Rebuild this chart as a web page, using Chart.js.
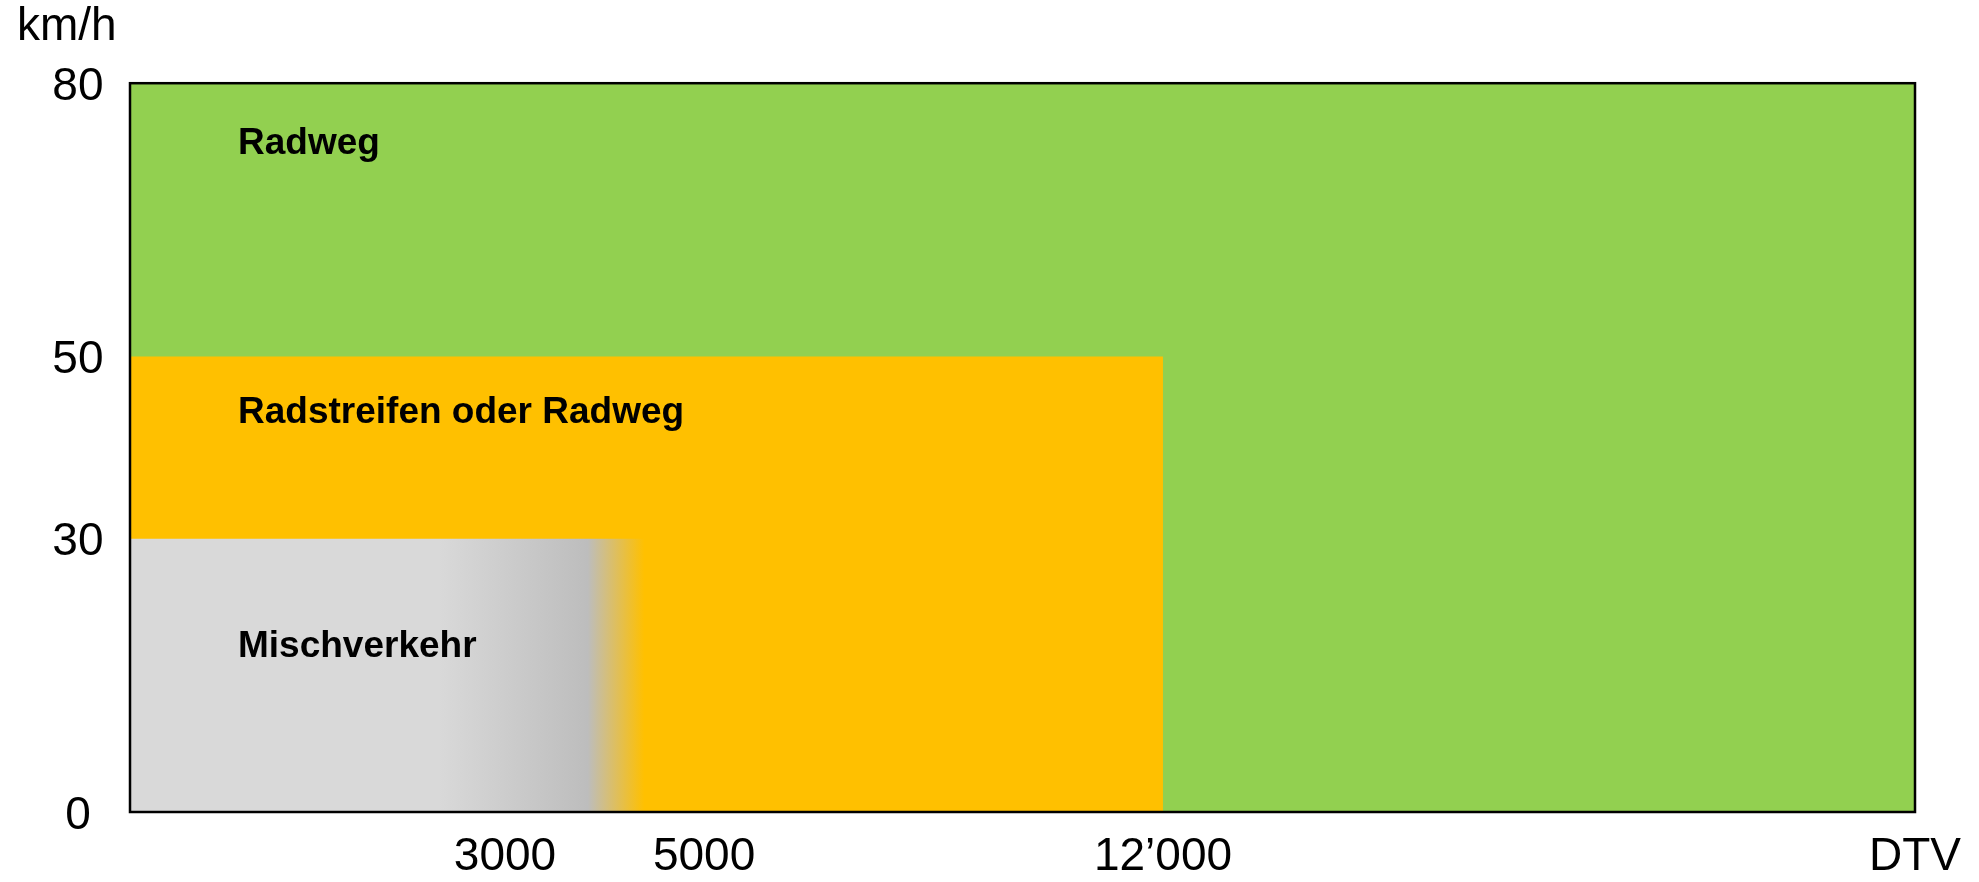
<!DOCTYPE html>
<html>
<head>
<meta charset="utf-8">
<script src="https://cdn.jsdelivr.net/npm/chart.js@4/dist/chart.umd.min.js"></script>
<style>
  html, body { margin: 0; padding: 0; background: #ffffff; }
  #wrap { width: 1979px; height: 882px; position: relative; }
</style>
</head>
<body>
<div id="wrap"><canvas id="c"></canvas></div>
<script>
// ---- data ----
const zoneNames     = ['Mischverkehr', 'Radstreifen oder Radweg', 'Radweg'];
const zoneMaxSpeed  = [30, 50, 80];            // km/h (upper edge of each zone)
const zoneMaxDtv    = [4400, 12000, 20000];    // DTV (right edge of each zone)
const zoneLabelY    = [18.1, 43.8, 73.3];      // km/h where the zone name sits
const xTickValues   = [3000, 5000, 12000, 20000];
const xTickLabels   = ['3000', '5000', '12\u2019000', 'DTV'];
const yTickValues   = [0, 30, 50, 80];
const yUnit         = 'km/h';

// schematic (non-proportional) DTV axis, as drawn in the original
const axisAnchorValues    = [0, 3000, 5000, 12000, 20000];
const axisAnchorFractions = [0, 0.2101, 0.3216, 0.5787, 1];

const zoneColors = ['#d9d9d9', '#ffc000', '#92d050'];

// ---- custom piecewise scale ----
class SchematicScale extends Chart.LinearScale {
  getPixelForValue(value) {
    if (value === null || value === undefined || isNaN(value)) return NaN;
    const vs = axisAnchorValues, fs = axisAnchorFractions;
    let i = 1;
    while (i < vs.length - 1 && value > vs[i]) i++;
    const t = (value - vs[i - 1]) / (vs[i] - vs[i - 1]);
    return this.getPixelForDecimal(fs[i - 1] + t * (fs[i] - fs[i - 1]));
  }
  getValueForPixel(pixel) {
    const d = this.getDecimalForPixel(pixel);
    const vs = axisAnchorValues, fs = axisAnchorFractions;
    let i = 1;
    while (i < fs.length - 1 && d > fs[i]) i++;
    const t = (d - fs[i - 1]) / (fs[i] - fs[i - 1]);
    return vs[i - 1] + t * (vs[i] - vs[i - 1]);
  }
}
SchematicScale.id = 'schematic';
SchematicScale.defaults = Chart.LinearScale.defaults;
Chart.register(SchematicScale);

const FONT = 'Liberation Sans, Arial, Helvetica, sans-serif';

function greyFade(ctx) {
  const chart = ctx.chart;
  if (!chart.chartArea || !chart.scales.x) return zoneColors[0];
  const x = chart.scales.x;
  const p0 = x.getPixelForValue(0), p1 = x.getPixelForValue(zoneMaxDtv[0]);
  const g = chart.ctx.createLinearGradient(p0, 0, p1, 0);
  g.addColorStop(0, '#d9d9d9');
  g.addColorStop(0.60, '#d9d9d9');
  g.addColorStop(0.89, '#bdbdbd');
  g.addColorStop(1, '#ffc000');
  return g;
}

const datasets = zoneNames.map((name, i) => ({
  label: name,
  data: [{ x: 0, y: zoneMaxSpeed[i] }, { x: zoneMaxDtv[i], y: zoneMaxSpeed[i] }],
  backgroundColor: i === 0 ? greyFade : zoneColors[i],
  borderColor: 'rgba(0,0,0,0)',
  borderWidth: 0,
  pointRadius: 0,
  fill: 'origin',
  tension: 0
}));

const framePlugin = {
  id: 'frameAndNames',
  afterDatasetsDraw(chart) {
    const { ctx, chartArea: a, scales } = chart;
    ctx.save();
    // zone names
    ctx.font = 'bold 37px ' + FONT;
    ctx.fillStyle = '#000';
    ctx.textAlign = 'left';
    ctx.textBaseline = 'middle';
    zoneNames.forEach((n, i) => {
      ctx.fillText(n, a.left + 108, scales.y.getPixelForValue(zoneLabelY[i]));
    });
    // frame
    ctx.strokeStyle = '#000';
    ctx.lineWidth = 2.5;
    ctx.strokeRect(a.left, a.top, a.right - a.left, a.bottom - a.top);
    ctx.restore();
  }
};

new Chart(document.getElementById('c'), {
  type: 'line',
  data: { datasets },
  plugins: [framePlugin],
  options: {
    responsive: true,
    maintainAspectRatio: false,
    animation: false,
    events: [],
    layout: { padding: { left: 17, right: 64, top: 0, bottom: 0 } },
    plugins: {
      legend: { display: false },
      tooltip: { enabled: false },
      title: {
        display: true,
        text: yUnit,
        align: 'start',
        color: '#000',
        font: { family: FONT, size: 46, weight: 'normal' },
        padding: { top: 0, bottom: 28 }
      }
    },
    scales: {
      x: {
        type: 'schematic',
        min: 0,
        max: axisAnchorValues[axisAnchorValues.length - 1],
        grid: { display: false, drawTicks: false },
        border: { display: false },
        afterBuildTicks: s => { s.ticks = xTickValues.map(v => ({ value: v })); },
        afterFit: s => { s.height = 70; },
        ticks: {
          autoSkip: false,
          maxRotation: 0,
          minRotation: 0,
          padding: 18,
          color: '#000',
          font: { family: FONT, size: 46 },
          callback: (v, i) => xTickLabels[i]
        }
      },
      y: {
        type: 'linear',
        min: 0,
        max: 80,
        grid: { display: false, drawTicks: false },
        border: { display: false },
        afterBuildTicks: s => { s.ticks = yTickValues.map(v => ({ value: v })); },
        afterFit: s => { s.width = 113; },
        ticks: {
          padding: 26.5,
          crossAlign: 'center',
          labelOffset: 4,
          color: '#000',
          font: { family: FONT, size: 46 },
          callback: v => String(v)
        }
      }
    }
  }
});
</script>
</body>
</html>
